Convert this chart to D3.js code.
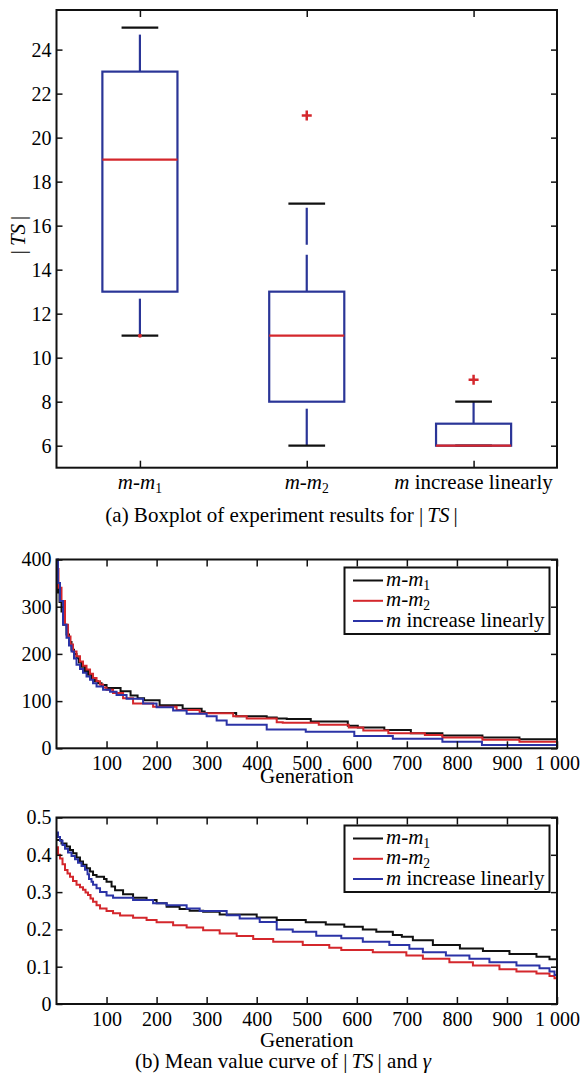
<!DOCTYPE html>
<html><head><meta charset="utf-8">
<script src="https://cdn.jsdelivr.net/npm/d3@7"></script>
</head><body style="margin:0">
<svg id="c" width="583" height="1080"></svg>
<script>
// ---------------- DATA ----------------
const boxCategories = ["m-m1", "m-m2", "m increase linearly"];
const boxQ1 = [13, 8, 6];
const boxMedian = [19, 11, 6];
const boxQ3 = [23, 13, 7];
const boxWhiskerLow = [11, 6, 6];
const boxWhiskerHigh = [25, 17, 8];
const boxOutliers = [[2, 21], [3, 9]];
const boxDots = [[1, 11]];
const boxYTicks = [6, 8, 10, 12, 14, 16, 18, 20, 22, 24];

const seriesNames = ["m-m1", "m-m2", "m increase linearly"];
const genTicks = [100, 200, 300, 400, 500, 600, 700, 800, 900, 1000];
const tsYTicks = [0, 100, 200, 300, 400];
const gammaYTicks = [0, 0.1, 0.2, 0.3, 0.4, 0.5];

// |TS| mean value vs generation (step curves)
const tsM1 = [[0,365],[3,330],[6,310],[10,290],[14,262],[20,241],[25,225],[30,209],[35,200],[40,191],[45,182],[50,173],[57,164],[63,156],[70,149],[77,142],[83,138],[90,134],[100,128],[128,121],[148,112],[162,106],[175,102],[206,91],[252,84],[290,78],[296,75],[359,68],[420,65],[440,63],[460,62],[508,57],[582,48],[602,44],[655,39],[708,32],[771,27],[851,23],[925,19],[1000,19]];
const tsM2 = [[0,380],[4,340],[10,312],[17,262],[23,237],[28,220],[33,205],[40,195],[47,184],[53,175],[60,167],[67,158],[73,149],[80,142],[87,135],[93,129],[100,124],[113,117],[133,106],[153,95],[193,88],[240,81],[286,74],[353,68],[380,63],[440,55],[452,54],[524,50],[584,44],[613,37.5],[663,32],[736,28],[771,23],[851,18],[925,14],[1000,14]];
const tsLin = [[0,400],[3,350],[7,312],[13,262],[20,234],[25,218],[30,205],[35,190],[40,177],[47,168],[53,160],[60,152],[67,145],[73,138],[80,131],[93,124],[107,120],[120,113],[140,105],[173,95],[200,87],[233,80],[260,73],[300,68],[320,59],[340,50],[420,40],[498,35],[595,26],[672,20],[771,14],[850,7],[1000,7]];

// gamma mean value vs generation
const gM1 = [[0,0.44],[10,0.43],[20,0.422],[27,0.413],[33,0.404],[40,0.393],[47,0.382],[53,0.373],[60,0.364],[67,0.355],[73,0.346],[80,0.341],[95,0.335],[100,0.328],[110,0.315],[117,0.305],[133,0.294],[153,0.285],[180,0.279],[200,0.27],[220,0.261],[246,0.255],[266,0.25],[293,0.247],[326,0.24],[400,0.232],[440,0.225],[498,0.219],[538,0.213],[575,0.207],[612,0.2],[639,0.194],[672,0.185],[690,0.18],[712,0.171],[752,0.158],[806,0.149],[852,0.142],[905,0.134],[959,0.127],[985,0.12],[1000,0.12]];
const gM2 = [[0,0.42],[3,0.40],[7,0.39],[12,0.375],[17,0.359],[22,0.35],[27,0.341],[33,0.33],[40,0.32],[47,0.313],[53,0.306],[58,0.299],[63,0.292],[68,0.283],[73,0.274],[80,0.265],[87,0.256],[100,0.249],[113,0.243],[127,0.237],[153,0.231],[180,0.225],[200,0.219],[233,0.211],[260,0.205],[293,0.198],[326,0.189],[360,0.182],[393,0.174],[433,0.167],[492,0.158],[545,0.151],[569,0.145],[632,0.139],[699,0.13],[732,0.121],[785,0.112],[832,0.103],[885,0.093],[919,0.087],[959,0.082],[985,0.075],[995,0.069],[1000,0.065]];
const gLin = [[0,0.46],[3,0.448],[7,0.438],[12,0.426],[17,0.416],[23,0.406],[30,0.397],[37,0.388],[43,0.379],[50,0.37],[57,0.36],[62,0.348],[65,0.335],[70,0.328],[73,0.32],[80,0.31],[87,0.3],[100,0.291],[113,0.285],[153,0.279],[193,0.27],[220,0.265],[260,0.256],[286,0.249],[340,0.238],[366,0.229],[406,0.22],[440,0.2],[472,0.194],[519,0.183],[569,0.176],[612,0.167],[665,0.158],[705,0.148],[732,0.139],[778,0.13],[825,0.121],[865,0.112],[919,0.103],[965,0.096],[985,0.087],[995,0.078],[1000,0.074]];

// ---------------- STYLE ----------------
const FONT = "Liberation Serif";
const BLACK = "#111", RED = "#d4272c", BLUE = "#2b33a6", BOXBLUE = "#2a3597";
const svg = d3.select("#c");
svg.append("rect").attr("width", 583).attr("height", 1080).attr("fill", "#fff");
const FL = 56.5, FR = 557;

function T(parent, size) {
  return parent.append("text").attr("font-family", FONT).attr("font-size", size).attr("fill", "#000");
}
function richParts(name) {
  if (name.startsWith("m-m")) return [{t:"m",it:true},{t:"-"},{t:"m",it:true},{t:name.slice(3),sub:true}];
  if (name.startsWith("m ")) return [{t:"m",it:true},{t:name.slice(1)}];
  return [{t:name}];
}
function richText(sel, parts, size) {
  parts.forEach(p => {
    const ts = sel.append("tspan").attr("font-family", FONT).text(p.t);
    if (p.it) ts.attr("font-style", "italic");
    if (p.sub) ts.attr("font-size", size * 0.65).attr("dy", 4);
  });
}

function frameAxes(g, x, y, xt, yt, xfmt, yfmt, xpad) {
  const [x0, x1] = x.range(), [y0, y1] = y.range();
  const style = a => {
    a.select(".domain").remove();
    a.selectAll(".tick line").attr("stroke", BLACK).attr("stroke-width", 1.5);
    a.attr("font-family", FONT).attr("font-size", 20);
    a.selectAll("text").attr("fill", "#000").attr("font-family", FONT).attr("font-size", 20);
  };
  g.append("g").attr("transform", `translate(${x0},0)`)
    .call(d3.axisLeft(y).tickValues(yt).tickSizeInner(-6).tickSizeOuter(0).tickPadding(5).tickFormat(yfmt)).call(style);
  g.append("g").attr("transform", `translate(${x1},0)`)
    .call(d3.axisRight(y).tickValues(yt).tickSizeInner(-6).tickSizeOuter(0).tickFormat("")).call(style);
  g.append("g").attr("transform", `translate(0,${y0})`)
    .call(d3.axisBottom(x).tickValues(xt).tickSizeInner(-7).tickSizeOuter(0).tickPadding(xpad).tickFormat(xfmt)).call(style);
  g.append("g").attr("transform", `translate(0,${y1})`)
    .call(d3.axisTop(x).tickValues(xt).tickSizeInner(-7).tickSizeOuter(0).tickFormat("")).call(style);
  g.append("rect").attr("x", x0).attr("y", y1).attr("width", x1 - x0).attr("height", y0 - y1)
    .attr("fill", "none").attr("stroke", BLACK).attr("stroke-width", 2);
}

// ---------------- (a) BOXPLOT ----------------
const xB = d3.scaleLinear().domain([0.5, 3.5]).range([FL, FR]);
const yB = d3.scaleLinear().domain([5, 25.8]).range([467.7, 10]);
const gA = svg.append("g");
const idx = boxCategories.map((d, i) => i);
const BH = 0.225, CH = 0.11;

idx.forEach(i => {
  const c = i + 1;
  gA.append("line").attr("x1", xB(c)).attr("x2", xB(c)).attr("y1", yB(boxQ3[i])).attr("y2", yB(boxWhiskerHigh[i]))
    .attr("stroke", BOXBLUE).attr("stroke-width", 2.2).attr("stroke-dasharray", "37,10");
  if (boxWhiskerLow[i] < boxQ1[i])
    gA.append("line").attr("x1", xB(c)).attr("x2", xB(c)).attr("y1", yB(boxWhiskerLow[i])).attr("y2", yB(boxQ1[i]))
      .attr("stroke", BOXBLUE).attr("stroke-width", 2.2).attr("stroke-dasharray", "37,10");
});
idx.forEach(i => {
  const c = i + 1;
  [boxWhiskerHigh[i], boxWhiskerLow[i]].forEach(v => {
    gA.append("line").attr("x1", xB(c - CH)).attr("x2", xB(c + CH)).attr("y1", yB(v)).attr("y2", yB(v))
      .attr("stroke", BLACK).attr("stroke-width", 2.2);
  });
});
gA.selectAll("rect.box").data(idx).join("rect").attr("class", "box")
  .attr("x", i => xB(i + 1 - BH)).attr("width", i => xB(i + 1 + BH) - xB(i + 1 - BH))
  .attr("y", i => yB(boxQ3[i])).attr("height", i => yB(boxQ1[i]) - yB(boxQ3[i]))
  .attr("fill", "none").attr("stroke", BOXBLUE).attr("stroke-width", 2.2);
gA.selectAll("line.med").data(idx).join("line").attr("class", "med")
  .attr("x1", i => xB(i + 1 - BH)).attr("x2", i => xB(i + 1 + BH))
  .attr("y1", i => yB(boxMedian[i])).attr("y2", i => yB(boxMedian[i]))
  .attr("stroke", RED).attr("stroke-width", 2.2);
gA.selectAll("path.out").data(boxOutliers).join("path").attr("class", "out")
  .attr("d", d => { const px = xB(d[0]), py = yB(d[1]); return `M${px-5},${py}H${px+5}M${px},${py-5}V${py+5}`; })
  .attr("stroke", RED).attr("stroke-width", 2.5).attr("fill", "none");
gA.selectAll("circle.dot").data(boxDots).join("circle").attr("class", "dot")
  .attr("cx", d => xB(d[0])).attr("cy", d => yB(d[1])).attr("r", 2).attr("fill", RED);

frameAxes(gA, xB, yB, [1, 2, 3], boxYTicks, () => "", d => d, 7);
gA.selectAll("text").filter(function(){ return this.textContent === ""; }).remove();
idx.forEach(i => {
  const t = T(gA, 21).attr("x", xB(i + 1)).attr("y", 489.3).attr("text-anchor", "middle");
  richText(t, richParts(boxCategories[i]), 21);
});
{
  const t = T(gA, 21).attr("transform", "translate(25,235) rotate(-90)").attr("text-anchor", "middle");
  t.append("tspan").attr("font-family", FONT).text("|");
  t.append("tspan").attr("font-family", FONT).attr("dx", 4).attr("font-style", "italic").text("TS");
  t.append("tspan").attr("font-family", FONT).attr("dx", 4).text("|");
}
{
  const t = T(svg, 21).attr("x", 281.5).attr("y", 521.7).attr("text-anchor", "middle");
  t.append("tspan").attr("font-family", FONT).text("(a) Boxplot of experiment results for |");
  t.append("tspan").attr("font-family", FONT).attr("dx", 4).attr("font-style", "italic").text("TS");
  t.append("tspan").attr("font-family", FONT).attr("dx", 4).text("|");
}

// ---------------- (b) LINE CHARTS ----------------
function legend(g, xRight, yTop, colors) {
  const w = 205, h = 66.5;
  const lg = g.append("g").attr("transform", `translate(${xRight - w},${yTop})`);
  lg.append("rect").attr("width", w).attr("height", h).attr("fill", "#fff").attr("stroke", BLACK).attr("stroke-width", 2);
  const rows = [13, 33.3, 53.5];
  seriesNames.forEach((n, i) => {
    lg.append("line").attr("x1", 8.5).attr("x2", 38.5).attr("y1", rows[i]).attr("y2", rows[i])
      .attr("stroke", colors[i]).attr("stroke-width", 2);
    const t = T(lg, 21).attr("x", 41.5).attr("y", rows[i] + 5.5);
    richText(t, richParts(n), 21);
  });
}

function lineChart(yRange, yDomain, yTicks, yfmt, series, colors, genBaseline) {
  const x = d3.scaleLinear().domain([0, 1000]).range([FL, FR]);
  const y = d3.scaleLinear().domain(yDomain).range(yRange);
  const g = svg.append("g");
  const line = d3.line().x(d => x(d[0])).y(d => y(d[1])).curve(d3.curveStepAfter);
  series.forEach((s, i) => {
    g.append("path").datum(s).attr("d", line).attr("fill", "none")
      .attr("stroke", colors[i]).attr("stroke-width", 2);
  });
  frameAxes(g, x, y, genTicks, yTicks, d => d === 1000 ? "1 000" : d, yfmt, 7.3);
  legend(g, FR - 7.5, yRange[1] + 8, colors);
  T(g, 21).attr("x", (FL + FR) / 2).attr("y", genBaseline).attr("text-anchor", "middle").text("Generation");
}

lineChart([748.3, 559.5], [0, 400], tsYTicks, d => d, [tsM1, tsM2, tsLin], [BLACK, RED, BLUE], 782.5);
lineChart([1004, 817.5], [0, 0.5], gammaYTicks, d => d === 0 ? "0" : d3.format(".1f")(d), [gM1, gM2, gLin], [BLACK, RED, BLUE], 1047);

{
  const t = T(svg, 21).attr("x", 283).attr("y", 1067.5).attr("text-anchor", "middle");
  t.append("tspan").attr("font-family", FONT).text("(b) Mean value curve of |");
  t.append("tspan").attr("font-family", FONT).attr("dx", 4).attr("font-style", "italic").text("TS");
  t.append("tspan").attr("font-family", FONT).attr("dx", 4).text("| and ");
  t.append("tspan").attr("font-family", FONT).attr("font-style", "italic").text("γ");
}
</script>
</body></html>
